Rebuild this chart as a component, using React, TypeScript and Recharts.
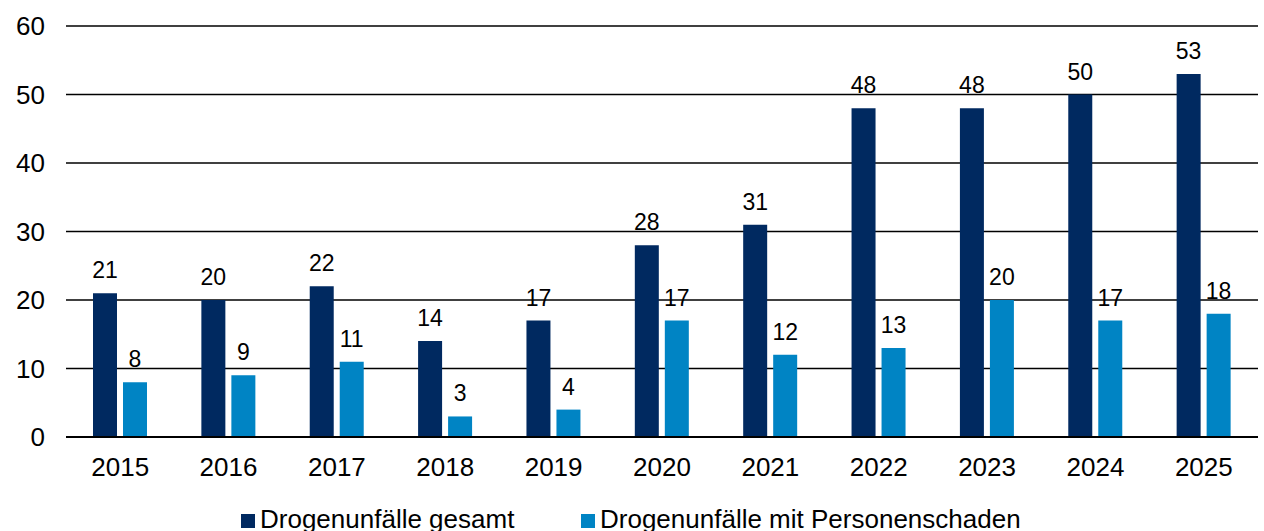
import React from 'react';
import {
  BarChart,
  Bar,
  XAxis,
  YAxis,
  CartesianGrid,
  LabelList
} from 'recharts';

const years = ['2015', '2016', '2017', '2018', '2019', '2020', '2021', '2022', '2023', '2024', '2025'];
const gesamt = [21, 20, 22, 14, 17, 28, 31, 48, 48, 50, 53];
const personenschaden = [8, 9, 11, 3, 4, 17, 12, 13, 20, 17, 18];
const yTicks = [0, 10, 20, 30, 40, 50, 60];

const data = years.map((year, i) => ({
  year,
  gesamt: gesamt[i],
  personenschaden: personenschaden[i]
}));

const DARK = '#002960';
const LIGHT = '#0084C4';
const FONT = '"Liberation Sans", Arial, sans-serif';

const legendItems = [
  { label: 'Drogenunfälle gesamt', color: DARK, left: 241 },
  { label: 'Drogenunfälle mit Personenschaden', color: LIGHT, left: 581 }
];

export default function App() {
  return (
    <div style={{ position: 'absolute', left: 0, top: 0, width: 1264, height: 531, background: '#fff', overflow: 'hidden' }}>
      <BarChart
        width={1264}
        height={531}
        data={data}
        margin={{ top: 26, right: 6, bottom: 0, left: 0 }}
        barGap={6}
        barCategoryGap={27}
      >
        <CartesianGrid vertical={false} stroke="#000" strokeWidth={1.5} />
        <XAxis
          dataKey="year"
          height={94}
          tickLine={false}
          tickSize={0}
          tickMargin={21}
          axisLine={{ stroke: '#000', strokeWidth: 2 }}
          tick={{ fill: '#000', fontSize: 26, fontFamily: FONT }}
        />
        <YAxis
          width={66}
          domain={[0, 60]}
          ticks={yTicks}
          interval={0}
          axisLine={false}
          tickLine={false}
          tickSize={0}
          tickMargin={21}
          tick={{ fill: '#000', fontSize: 26, fontFamily: FONT }}
        />
        <Bar dataKey="gesamt" name="Drogenunfälle gesamt" fill={DARK} barSize={24} isAnimationActive={false}>
          <LabelList dataKey="gesamt" position="top" offset={15} fill="#000" fontSize={23} fontFamily={FONT} />
        </Bar>
        <Bar dataKey="personenschaden" name="Drogenunfälle mit Personenschaden" fill={LIGHT} barSize={24} isAnimationActive={false}>
          <LabelList dataKey="personenschaden" position="top" offset={15} fill="#000" fontSize={23} fontFamily={FONT} />
        </Bar>
      </BarChart>
      {legendItems.map((item) => (
        <div
          key={item.label}
          style={{
            position: 'absolute',
            left: item.left,
            top: 504,
            display: 'flex',
            alignItems: 'flex-end',
            fontFamily: FONT,
            fontSize: 26,
            lineHeight: '30px',
            color: '#000',
            whiteSpace: 'nowrap'
          }}
        >
          <span style={{ width: 14, height: 14, background: item.color, marginRight: 5, marginBottom: 6 }} />
          {item.label}
        </div>
      ))}
    </div>
  );
}
